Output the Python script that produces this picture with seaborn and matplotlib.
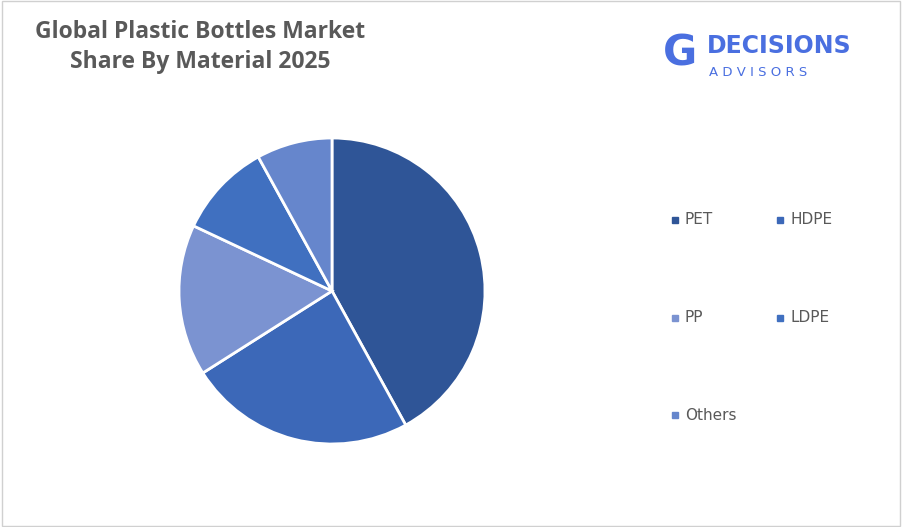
import matplotlib
matplotlib.use("Agg")
import matplotlib.pyplot as plt
import seaborn as sns
from matplotlib.patches import Rectangle

sns.set_theme(style="white")
plt.rcParams['font.family'] = ['DejaVu Sans']

labels = ["PET", "HDPE", "PP", "LDPE", "Others"]
values = [42, 24, 16, 10, 8]
colors = ["#2F5597", "#3C68B8", "#7B93D1", "#4070C0", "#6686CC"]

fig = plt.figure(figsize=(9.02, 5.27), dpi=100)
fig.patches.append(Rectangle((0.002, 0.002), 0.996, 0.996, transform=fig.transFigure,
                             fill=False, edgecolor="#D0D0D0", linewidth=1))
R = 153
ax = fig.add_axes([(332 - R)/902, 1 - (291 + R)/527, 2*R/902, 2*R/527])
ax.pie(values, colors=colors, startangle=90, counterclock=False,
       wedgeprops=dict(edgecolor="white", linewidth=2), radius=1)
ax.set_xlim(-1, 1)
ax.set_ylim(-1, 1)
ax.set_aspect("equal")
ax.axis("off")

fig.text(200/902, 1 - 47/527, "Global Plastic Bottles Market\nShare By Material 2025",
         ha="center", va="center", fontsize=16.5, fontweight="bold", color="#595959",
         linespacing=1.35, family="Open Sans")

# logo
fig.text(663/902, 1 - 54/527, "G", fontsize=30, fontweight="bold", color="#4A6FE0",
         ha="left", va="center")
fig.text(707/902, 1 - 46/527, "DECISIONS", fontsize=17, fontweight="bold", color="#4A6FE0",
         ha="left", va="center")
fig.text(709/902, 1 - 73/527, "A D V I S O R S", fontsize=9.5, color="#4A6FE0",
         ha="left", va="center")

pos = [(672, 220), (777, 220), (672, 318), (777, 318), (672, 415)]
for (x, y), lab, c in zip(pos, labels, colors):
    fig.patches.append(Rectangle((x/902, 1 - (y + 3)/527), 6/902, 6/527,
                                 transform=fig.transFigure, color=c))
    fig.text((x + 13)/902, 1 - y/527, lab, fontsize=11, color="#595959",
             ha="left", va="center")

fig.savefig("out.png", dpi=100)
